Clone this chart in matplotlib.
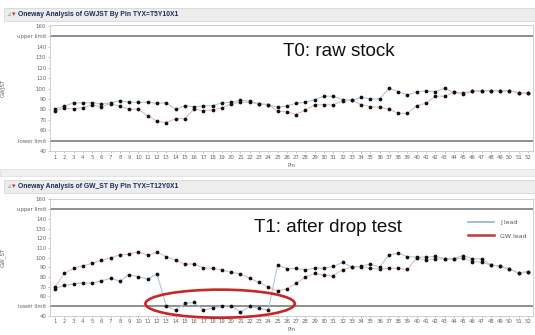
import numpy as np
import matplotlib
matplotlib.use("Agg")
from matplotlib import pyplot as plt
from matplotlib.patches import Ellipse, Rectangle
from matplotlib.lines import Line2D

# pins on the x axis
pins = list(range(1, 53))

# T0 raw stock (top panel)
t0_j = [80.4, 83, 86.2, 86.2, 86.5, 85.2, 86.2, 88.4, 86.8, 86.8, 86.8, 85.8, 86.2,
        80, 83.3, 82.6, 83.3, 83.6, 86.2, 86.8, 88.7, 87.8, 85.5, 84.6, 82, 83.3,
        85.8, 86.8, 89.4, 92.6, 92.6, 89.4, 88.7, 91.6, 90, 90, 100.2, 97, 93.8,
        97, 97.7, 97, 100.2, 96.4, 95.8, 97.4, 97.7, 98, 97.7, 97.7, 96, 95.4]
t0_gw = [78.5, 81, 80.4, 81.7, 84.2, 82.6, 85.5, 83, 80, 80, 73.7, 68.6, 67.3,
         71, 71, 80.4, 78.8, 79.4, 81.4, 85.2, 86.8, 86.8, 84.9, 84.6, 78.2, 77.8,
         75, 79.4, 84.2, 84.6, 84.2, 88.4, 88.7, 84.6, 82.6, 82, 80.4, 76.2, 76.2,
         83.6, 85.8, 92.6, 92.6, 96.4, 94.8, 97.4, 97.7, 98, 97.7, 97.7, 96, 95.4]

# T1 after drop test (bottom panel)
t1_j = [68, 71.3, 72.7, 74, 73.4, 76.1, 78.5, 75.8, 82.3, 80.3, 77.8, 83.3, 49.5,
        45.9, 52.6, 53.7, 45.9, 48.2, 49.5, 50.3, 43.8, 49.6, 47.5, 46, 92.3, 88.5,
        88.8, 87.1, 89.2, 89.2, 90.9, 95, 90.2, 91, 93.3, 90, 102.9, 104.6, 101,
        100.5, 100.3, 101.2, 99, 99, 101.9, 99, 98.5, 92.5, 91, 88.2, 84, 85.6]
t1_gw = [69.5, 83.7, 88.8, 91.6, 94, 97.1, 99.8, 102.9, 103.6, 106, 102.2, 105.7,
         100.9, 97.1, 93.3, 93.3, 89.2, 89.2, 87.1, 84.7, 83.3, 78.5, 74.4, 69.3,
         65.8, 67.9, 73.4, 79.6, 84, 81.6, 81.3, 87.6, 90.2, 90.5, 88.8, 88.2, 89,
         88.8, 87.8, 99.5, 97.3, 98.9, 98.5, 98.5, 99.5, 95.7, 95.4, 92.3, 91, 88.2,
         84, 85.6]

upper_limit = 150
lower_limit = 50
ytick_vals = [40, 50, 60, 70, 80, 90, 100, 110, 120, 130, 140, 150, 160]
ytick_text = ["40", "lower limit", "60", "70", "80", "90", "100", "110", "120",
              "130", "140", "upper limit", "160"]

titles = ["Oneway Analysis of GWJST By Pin TYX=T5Y10X1",
          "Oneway Analysis of GW_ST By Pin TYX=T12Y0X1"]
ylabels = ["GWJST", "GW_ST"]
notes = ["T0: raw stock", "T1: after drop test"]

W, H = 535, 335
fig = plt.figure(figsize=(W / 100, H / 100), dpi=100)
fig.patch.set_facecolor("white")

def px(x, y, w, h):
    # pixel box (top-left origin) -> figure fraction
    return [x / W, 1 - (y + h) / H, w / W, h / H]

def header(y, text):
    fig.add_artist(Rectangle((4 / W, 1 - (y + 13) / H), (W - 4) / W, 13 / H,
                             transform=fig.transFigure, facecolor="#ededed",
                             edgecolor="#d8d8d8", lw=0.6))
    fig.text(6 / W, 1 - (y + 6.5) / H, "⊿", fontsize=4, color="#999999",
             va="center")
    fig.text(12 / W, 1 - (y + 6.5) / H, "▾", fontsize=5, color="#c0392b",
             va="center")
    fig.text(18 / W, 1 - (y + 6.5) / H, text, fontsize=4.9, fontweight="bold",
             color="#1d2b5e", va="center", family="Liberation Sans")

def panel(box, j, gw, title, hy, ylab, note, note_xy):
    header(hy, title)
    ax = fig.add_axes(px(*box))
    ax.plot(pins, j, color="#b3c6dc", lw=0.8, marker="o", ms=1.7,
            mfc="#111111", mec="#111111", zorder=3)
    ax.plot(pins, gw, color="#e6bcbc", lw=0.8, marker="o", ms=1.7,
            mfc="#111111", mec="#111111", zorder=3)
    ax.axhline(upper_limit, color="#707070", lw=1.1, zorder=2)
    ax.axhline(lower_limit, color="#707070", lw=1.1, zorder=2)
    ax.set_xlim(0.46, 52.54)
    ax.set_ylim(40, 161)
    ax.set_xticks(pins)
    ax.set_xticklabels([str(p) for p in pins], fontsize=3.9, color="#666666")
    ax.set_yticks(ytick_vals)
    ax.set_yticklabels(ytick_text, fontsize=3.9, color="#666666")
    ax.tick_params(length=1.5, width=0.4, color="#999999", pad=1.2)
    for s in ax.spines.values():
        s.set_color("#c8c8c8")
        s.set_linewidth(0.6)
    ax.set_ylabel(ylab, fontsize=4, color="#666666", labelpad=8)
    ax.set_xlabel("Pin", fontsize=4, color="#666666", labelpad=2)
    fig.text(note_xy[0] / W, 1 - note_xy[1] / H, note, fontsize=13.6,
             color="#111111", va="center", family="Liberation Sans")
    return ax

ax1 = panel((50, 25, 483, 126), t0_j, t0_gw, titles[0], 8, ylabels[0],
            notes[0], (283, 51))

# separator between the two report blocks
fig.add_artist(Rectangle((0, 1 - 176 / H), 1, 7 / H, transform=fig.transFigure,
                         facecolor="#f0f0f0", edgecolor="#dddddd", lw=0.5))

ax2 = panel((50, 198.5, 483, 117.2), t1_j, t1_gw, titles[1], 180, ylabels[1],
            notes[1], (254, 227))

# red ellipse round the failing J lead pins
ax2.add_patch(Ellipse((18.8, 52.4), 16.1, 29, fill=False, edgecolor="#c62828",
                      lw=1.9, clip_on=False, zorder=4))

handles = [Line2D([], [], color="#8fb3d0", lw=1.2),
           Line2D([], [], color="#c0393b", lw=1.8)]
ax2.legend(handles, ["J lead", "GW lead"], loc="upper left",
           bbox_to_anchor=(462 / W, 1 - 214 / H), bbox_transform=fig.transFigure,
           frameon=False, fontsize=4.5, handlelength=4.2, handletextpad=1.0,
           labelspacing=1.3, labelcolor="#555555")

fig.savefig("out.png", dpi=100)
